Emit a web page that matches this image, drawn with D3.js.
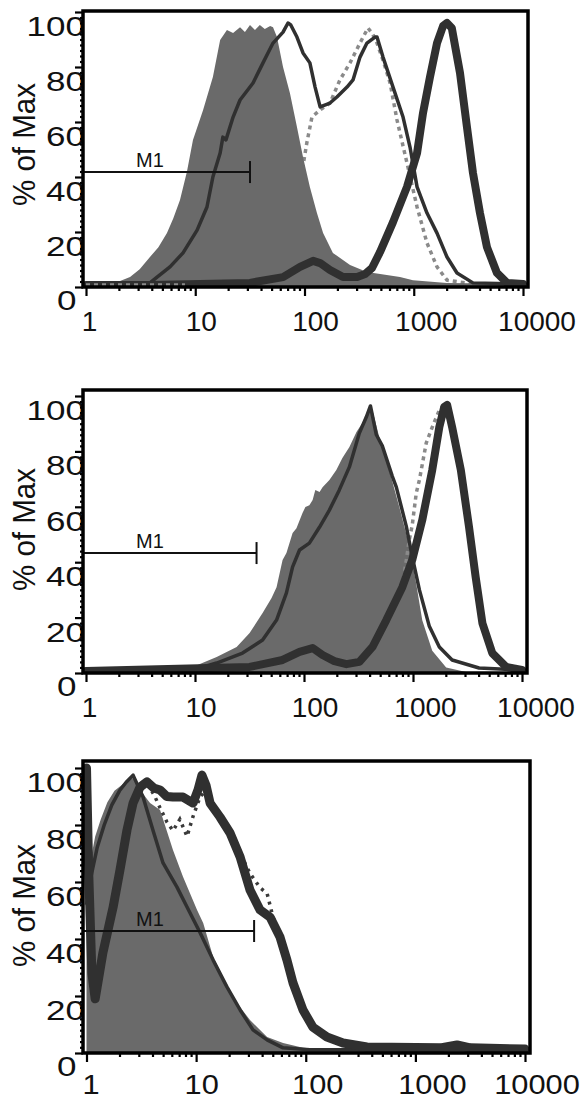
<!DOCTYPE html>
<html><head><meta charset="utf-8">
<script src="https://cdn.jsdelivr.net/npm/d3@7"></script>
<style>body{margin:0;background:#fff}svg{display:block}</style>
</head><body>
<svg id="c" width="583" height="1102"></svg>
<script>
// ---------- data ----------
const xTickValues = [1, 10, 100, 1000, 10000];
const xTickLabels = ["1", "10", "100", "1000", "10000"];
const yTickValues = [0, 20, 40, 60, 80, 100];
const yTickLabels = ["0", "20", "40", "60", "80", "100"];
const axisTitle = "% of Max";
const gateLabel = "M1";
const gateStarts = [0.94, 0.94, 0.94];
const gateEnds = [31.7, 36.7, 33.8];
const gateLevels = [41.8, 43.3, 42.8];

// panel 1
const p1Fill = [[1,1.1],[1.34,1.1],[1.77,1.5],[2.05,2.2],[2.53,3.6],[3.1,6.5],[3.85,10.9],[4.6,14.5],[5.51,19.6],[6.3,25],[7.25,31.6],[8.4,42],[9.53,53.5],[11.8,64.4],[14.5,76.4],[16.9,89.8],[19.5,93.5],[22.2,92.4],[25.7,94.5],[28.5,92.7],[31.7,95.3],[35.2,93.5],[39,95.3],[43.3,93.8],[48.5,94.9],[51.5,94.5],[56,90.9],[63.6,80],[73.6,70.5],[85.3,58.2],[96.9,47.3],[112,36.4],[130,26.9],[148,19.6],[182,12.4],[261,8],[373,5.5],[748,3.6],[984,2.5],[2015,1.5],[10000,1.1]];
const p1Thin = [[1,1.5],[3.85,1.5],[4.47,3.6],[5.87,7.3],[7.73,12.4],[10.4,20.7],[12.8,29.1],[14.5,40],[16.9,48.7],[17.9,54.5],[19.1,53.5],[22.2,61.8],[25.7,68],[33.8,74.2],[41.7,81.5],[51.5,88.7],[63.6,92.7],[70.6,96],[74.9,95.3],[85.3,90.9],[96.9,85.1],[112,81.5],[125,72.7],[139,65.5],[171,66.9],[198,69.1],[245,72.7],[278,75.3],[322,83.6],[373,88.7],[442,90.9],[461,90.9],[523,83.6],[646,72.7],[798,61.8],[924,50.9],[1072,36.4],[1322,26.9],[1633,19.6],[2015,10.9],[2488,5.1],[3483,1.5],[10000,1.1]];
const p1Dotted = [[1,0.7],[8.05,0.7],[31.7,1.1],[60,1.5],[75,8],[85,25],[95,42],[105,52.4],[117,61.8],[139,64.4],[171,66.9],[211,75.3],[261,81.5],[322,88.7],[381,94.2],[420,92],[461,88.7],[523,82.5],[607,74.2],[703,60.7],[867,45.1],[1072,29.1],[1322,16],[1633,7.3],[2015,2.5],[4037,0.7],[10000,0.7]];
const p1Thick = [[1,0.7],[3.85,0.7],[31.7,1.5],[63.6,3.6],[91,7.3],[120,9.5],[139,8.7],[171,6.2],[225,3.6],[303,3.6],[359,4.7],[415,6.9],[491,12.7],[646,23.6],[867,36.4],[1072,48.7],[1216,63.3],[1408,76.4],[1633,88.7],[1855,94.9],[2015,96],[2230,94.2],[2651,77.8],[3069,58.2],[3483,41.5],[4037,26.9],[4678,14.5],[5776,5.1],[7140,1.5],[10000,1.1]];

// panel 2
const p2Fill = [[1,0.7],[9.53,2.2],[15.8,5.8],[24.1,9.4],[31.7,14.4],[41.7,21.7],[50.4,27.1],[56,31],[63.6,40.8],[69,43.3],[78.6,50.5],[85.3,52.3],[96.9,57.8],[103,59.9],[112,60.6],[120,62.5],[127,66.1],[139,65.3],[148,67.1],[171,69.7],[198,73.3],[225,77.6],[261,81.6],[303,87],[344,90.3],[398,96],[425,94.9],[491,85],[607,73],[748,60],[924,46],[1072,32],[1216,19],[1502,8],[2015,2],[3069,0.4],[10000,0.4]];
const p2Thin = [[1,0.7],[11.1,1.8],[15.8,3.6],[27.3,7.2],[41.7,11.9],[56,19.1],[69,28.9],[78.6,38.3],[91,44.4],[112,46.9],[139,52.7],[171,58.8],[211,66.1],[261,74.4],[322,86.6],[373,92.4],[407,96.4],[461,86],[523,82],[646,71],[703,67.1],[867,53],[984,42],[1145,30],[1408,17],[1744,9.4],[2286,4.7],[4037,1.8],[10000,1.1]];
const p2Dotted = [[1,0.7],[31.7,2.2],[63.6,4.7],[91,7.6],[120,9],[148,6.5],[190,4.3],[245,3.2],[322,4],[425,9.4],[569,19.1],[798,31],[924,48],[984,53.4],[1072,65],[1145,69.7],[1322,83],[1502,88.8],[1744,94.9],[1932,96.8],[2286,88.8],[2747,73.3],[3266,52.7],[3755,34.7],[4333,18],[5335,7.2],[7140,2.2],[10000,1.1]];
const p2Thick = [[1,0.7],[31.7,2.2],[63.6,4.7],[91,7.6],[120,9],[148,6.5],[190,4.3],[245,3.2],[322,4],[425,9.4],[569,19.1],[798,31],[984,40.8],[1216,55.2],[1502,73.3],[1744,88.8],[1932,96],[2057,96.8],[2286,88.8],[2747,73.3],[3266,52.7],[3755,34.7],[4333,18],[5335,7.2],[7140,2.2],[10000,1.1]];

// panel 3
const p3Fill = [[1,48],[1.06,62],[1.12,70],[1.2,76],[1.35,82],[1.55,88],[1.8,92],[2.1,94],[2.4,96],[2.7,96.5],[3.08,92.3],[3.8,87.7],[4.69,85.3],[6.15,71.2],[7.59,61.8],[10.2,50.2],[11.6,45.6],[14.3,33.7],[17.6,26.7],[23.6,17.5],[31,11.6],[44.4,5.6],[62.1,3.5],[94.4,1.8],[167,1.1],[10000,0.7]];
const p3Thin = [[1,52],[1.1,62],[1.25,72],[1.45,80],[1.7,87],[2.0,92],[2.3,95],[2.66,97.5],[3.28,89.8],[4.04,78.2],[4.99,66.7],[6.69,58.2],[8.26,51.2],[10.9,42.1],[14.3,32.6],[19.1,23.2],[25.2,15.1],[33,8.1],[44.4,4.6],[62.1,1.8],[109,1.1],[10000,1.1]];
const p3Dotted = [[1,100],[1.12,25],[1.196,18],[1.41,35],[1.75,51],[2.02,64],[2.34,78],[2.66,87.7],[3.08,93],[3.56,95],[4.2,90],[4.69,86],[5.42,81],[6.15,78],[7.1,82],[8.26,76],[9.37,83],[10.9,90],[12.3,92],[13.4,87.7],[16.5,82.8],[20.4,77.2],[25.2,70],[31,63],[38.3,58],[44.4,56],[50,48],[58.2,41],[67.4,33],[76.5,25],[94.4,15],[116,9],[156,5.6],[219,3.5],[362,2.1],[10000,1.4]];
const p3Thick = [[1,100],[1.05,62],[1.12,28],[1.2,19],[1.41,35.1],[1.75,51.2],[2.02,64.2],[2.34,78.2],[2.66,87.7],[3.08,93.3],[3.56,95.1],[4.1,93],[4.69,92.3],[5.4,90],[6.15,89.8],[7.59,89.8],[9.37,87.7],[10.4,92.3],[11.3,97.5],[12.3,94],[13.4,87.7],[16.5,82.8],[20.4,77.2],[25.2,68.8],[31,57.2],[38.3,50.2],[47.2,47.7],[58.2,40.7],[67.4,32.6],[76.5,24.6],[94.4,15.1],[116,9.1],[156,5.6],[219,3.5],[362,2.1],[1690,1.8],[2400,2.8],[3170,1.8],[10000,1.4]];

// ---------- layout & style ----------
const layout = [
  {frameTop: 11, axisY: 287, y100: 12, left: 83, right: 528, x1: 86, x4: 523, thickW: 8, dotColor: "#8a8a8a", dotDash: "4,4",
   labelDy: 44, labelShift: [3.5, 6, 11, 12.5, 14], labelSx: 1, dottedUnder: true, dottedOverMax: 9},
  {frameTop: 390, axisY: 673, y100: 396, left: 83, right: 527, x1: 86, x4: 522, thickW: 8, dotColor: "#8a8a8a", dotDash: "4,4",
   labelDy: 44, labelShift: [3.5, 6, 11, 12.5, 14], labelSx: 1, dottedUnder: false},
  {frameTop: 761, axisY: 1053, y100: 768, left: 83, right: 530, x1: 86.5, x4: 525, thickW: 9, dotColor: "#3a3a3a", dotDash: "3,5",
   labelDy: 41, labelShift: [4.5, 5.5, 12, 17, 12], labelSx: 1.1, dottedUnder: false}
];
const panelSeries = [
  {fill: p1Fill, dotted: p1Dotted, thin: p1Thin, thick: p1Thick},
  {fill: p2Fill, dotted: p2Dotted, thin: p2Thin, thick: p2Thick},
  {fill: p3Fill, dotted: p3Dotted, thin: p3Thin, thick: p3Thick}
];
const FONT = "'Liberation Sans', Arial, Helvetica, sans-serif";
const fillColor = "#6a6a6a", darkLine = "#303030";
const yLabelSx = 1.25;

const svg = d3.select("#c");

layout.forEach((L, i) => {
  const S = panelSeries[i];
  const g = svg.append("g");
  const x = d3.scaleLog().domain([1, 10000]).range([L.x1, L.x4]);
  const y = d3.scaleLinear().domain([0, 100]).range([L.axisY, L.y100]);

  // y tick labels (partly covered by plot area, as in the original)
  yTickValues.forEach((v, k) => {
    const zero = v === 0;
    g.append("text")
      .attr("transform", `translate(${zero ? 76.5 : 85},${y(v) + (zero ? 23 : 24)}) scale(${yLabelSx},1)`)
      .attr("text-anchor", "end")
      .attr("font-family", FONT).attr("font-size", 28).attr("fill", "#111")
      .text(yTickLabels[k]);
  });

  // axis title
  g.append("text")
    .attr("transform", `translate(35,${(L.axisY + L.y100) / 2 - 5}) rotate(-90) scale(1,1.07)`)
    .attr("text-anchor", "middle")
    .attr("font-family", FONT).attr("font-size", 29.5).attr("fill", "#111")
    .text(axisTitle);

  // x tick labels
  xTickValues.forEach((v, k) => {
    g.append("text")
      .attr("transform", `translate(${x(v) + L.labelShift[k]},${L.axisY + L.labelDy}) scale(${L.labelSx},1)`)
      .attr("text-anchor", "middle")
      .attr("font-family", FONT).attr("font-size", 28).attr("fill", "#111")
      .text(xTickLabels[k]);
  });

  // plot background
  g.append("rect").attr("x", L.left).attr("y", L.frameTop)
    .attr("width", L.right - L.left).attr("height", L.axisY - L.frameTop)
    .attr("fill", "#fff");

  const clipId = "clip" + i;
  svg.append("clipPath").attr("id", clipId).append("rect")
    .attr("x", L.left).attr("y", L.frameTop)
    .attr("width", L.right - L.left).attr("height", L.axisY - L.frameTop);

  const plot = g.append("g").attr("clip-path", `url(#${clipId})`);
  const area = d3.area().x(d => x(d[0])).y0(y(0)).y1(d => y(d[1]));
  const line = d3.line().x(d => x(d[0])).y(d => y(d[1]));
  const drawDotted = (data) => plot.append("path").attr("d", line(data)).attr("fill", "none")
    .attr("stroke", L.dotColor).attr("stroke-width", 3.5).attr("stroke-dasharray", L.dotDash);

  if (L.dottedUnder) drawDotted(S.dotted);
  plot.append("path").attr("d", area(S.fill)).attr("fill", fillColor);
  if (!L.dottedUnder) drawDotted(S.dotted);
  plot.append("path").attr("d", line(S.thin)).attr("fill", "none")
    .attr("stroke", darkLine).attr("stroke-width", 3.5).attr("stroke-linejoin", "round");
  plot.append("path").attr("d", line(S.thick)).attr("fill", "none")
    .attr("stroke", darkLine).attr("stroke-width", L.thickW).attr("stroke-linejoin", "round").attr("stroke-linecap", "round");
  if (L.dottedUnder) drawDotted(S.dotted.filter(d => d[0] <= L.dottedOverMax));

  // gate marker
  const gy = y(gateLevels[i]);
  const gx0 = x(gateStarts[i]), gx1 = x(gateEnds[i]);
  g.append("line").attr("x1", gx0).attr("x2", gx1).attr("y1", gy).attr("y2", gy)
    .attr("stroke", "#111").attr("stroke-width", 2);
  g.append("line").attr("x1", gx1).attr("x2", gx1).attr("y1", gy - 11).attr("y2", gy + 11)
    .attr("stroke", "#111").attr("stroke-width", 2);
  g.append("text").attr("x", 150).attr("y", gy - 5).attr("text-anchor", "middle")
    .attr("font-family", FONT).attr("font-size", 20).attr("fill", "#111").text(gateLabel);

  // frame
  g.append("rect").attr("x", L.left).attr("y", L.frameTop)
    .attr("width", L.right - L.left).attr("height", L.axisY - L.frameTop)
    .attr("fill", "none").attr("stroke", "#000").attr("stroke-width", 3.5);

  // x axis ticks (major + minor)
  const minor = [];
  for (let d = 1; d < 10000; d *= 10) for (let m = 2; m <= 9; m++) minor.push(d * m);
  const xMaj = g.append("g").attr("transform", `translate(0,${L.axisY})`)
    .call(d3.axisBottom(x).tickValues(xTickValues).tickSize(9).tickFormat(""));
  const xMin = g.append("g").attr("transform", `translate(0,${L.axisY})`)
    .call(d3.axisBottom(x).tickValues(minor).tickSize(4).tickFormat(""));
  // y axis ticks
  const yMinorVals = d3.range(2, 100, 2).filter(v => v % 20 !== 0);
  const yMaj = g.append("g").attr("transform", `translate(${L.left},0)`)
    .call(d3.axisLeft(y).tickValues(yTickValues).tickSize(8).tickFormat(""));
  const yMin = g.append("g").attr("transform", `translate(${L.left},0)`)
    .call(d3.axisLeft(y).tickValues(yMinorVals).tickSize(3).tickFormat(""));
  [xMaj, xMin, yMaj, yMin].forEach(a => {
    a.select(".domain").remove();
    a.selectAll("line").attr("stroke", "#000").attr("stroke-width", 2.2);
  });
});
</script>
</body></html>
